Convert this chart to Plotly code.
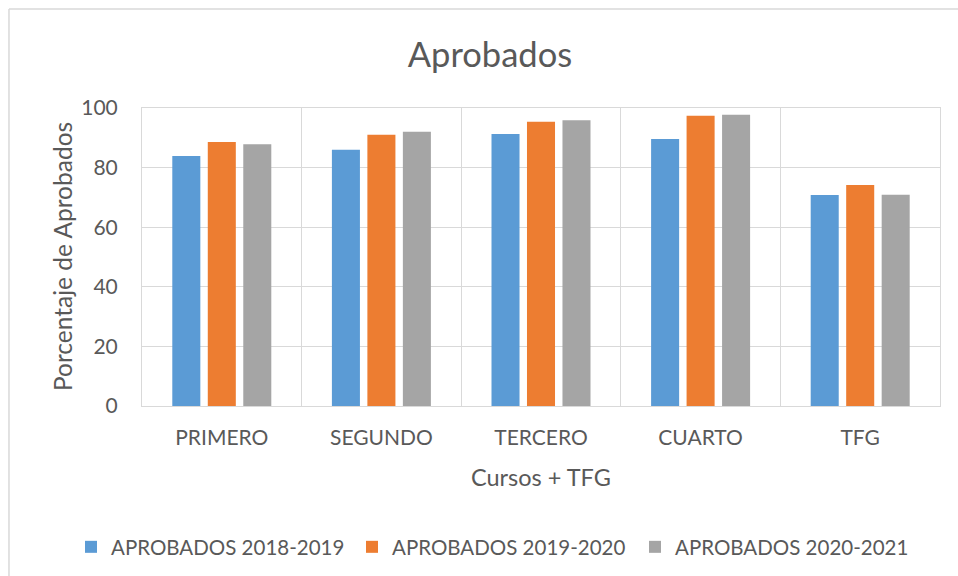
import plotly.graph_objects as go

categories = ["PRIMERO", "SEGUNDO", "TERCERO", "CUARTO", "TFG"]
series_names = ["APROBADOS 2018-2019", "APROBADOS 2019-2020", "APROBADOS 2020-2021"]
vals_2018_2019 = [83.9, 86.0, 91.3, 89.6, 70.8]
vals_2019_2020 = [88.6, 91.0, 95.4, 97.4, 74.2]
vals_2020_2021 = [87.8, 92.0, 95.9, 97.7, 70.9]
colors = ["#5B9BD5", "#ED7D31", "#A5A5A5"]
y_ticks = [0, 20, 40, 60, 80, 100]
x_title = "Cursos + TFG"
y_title = "Porcentaje de Aprobados"
chart_title = "Aprobados"

FONT = "Lato, 'Open Sans', sans-serif"
TXT = "#595959"
GRID = "#D9D9D9"
W, H = 958, 576

legend_ids = ["legend", "legend2", "legend3"]
legend_sym_x = [91, 372, 655]  # symbol centre (px)

fig = go.Figure()
for name, vals, col, lg in zip(series_names, [vals_2018_2019, vals_2019_2020, vals_2020_2021], colors, legend_ids):
    fig.add_trace(go.Bar(x=categories, y=vals, name=name, legend=lg,
                         marker=dict(color=col, line=dict(width=0))))

legend_common = dict(xref="container", yref="container", xanchor="left", yanchor="middle",
                     y=1 - 547 / H, bgcolor="rgba(0,0,0,0)", borderwidth=0,
                     font=dict(size=20.5, color=TXT, family=FONT))

fig.update_layout(
    width=W, height=H,
    margin=dict(l=142, r=18, t=108, b=170, autoexpand=False),
    paper_bgcolor="white", plot_bgcolor="white",
    barmode="group", bargap=0.333, bargroupgap=0.21,
    font=dict(family=FONT, color=TXT, size=21),
    title=dict(text=chart_title, x=490 / W, xanchor="center", xref="container",
               y=1 - 55 / H, yref="container", yanchor="middle",
               font=dict(family=FONT, size=34.5, color=TXT)),
    xaxis=dict(
        type="category", tickson="boundaries", showgrid=True, gridcolor=GRID, gridwidth=1,
        showline=True, linecolor=GRID, linewidth=1, mirror=True,
        ticks="", ticklabelstandoff=13,
        tickfont=dict(size=21, color=TXT, family=FONT),
    ),
    yaxis=dict(
        range=[0, 100], tickvals=y_ticks, showgrid=True, gridcolor=GRID, gridwidth=1,
        showline=True, linecolor=GRID, linewidth=1, mirror=True, zeroline=False,
        ticks="", ticklabelstandoff=19,
        tickfont=dict(size=21, color=TXT, family=FONT),
    ),
    legend=dict(x=(legend_sym_x[0] - 20) / W, **legend_common),
    legend2=dict(x=(legend_sym_x[1] - 20) / W, **legend_common),
    legend3=dict(x=(legend_sym_x[2] - 20) / W, **legend_common),
    showlegend=True,
)

# axis titles as positioned text
fig.add_annotation(text=x_title, xref="paper", yref="paper", x=0.5, y=(406 - 477) / 298,
                   xanchor="center", yanchor="middle", showarrow=False,
                   font=dict(size=23.5, color=TXT, family=FONT))
fig.add_annotation(text=y_title, xref="paper", yref="paper", x=(62 - 142) / 798, y=0.5,
                   xanchor="center", yanchor="middle", showarrow=False, textangle=-90,
                   font=dict(size=24.5, color=TXT, family=FONT))

# outer chart border (top and left edges visible in reference)
fig.add_shape(type="line", xref="paper", yref="paper", x0=-0.1667, x1=1.03, y0=1.332, y1=1.332,
              line=dict(color=GRID, width=1.5))
fig.add_shape(type="line", xref="paper", yref="paper", x0=-0.1667, x1=-0.1667, y0=1.332, y1=-0.6,
              line=dict(color=GRID, width=1.5))

fig.write_html("out.html", config={"displayModeBar": False},
               post_script="document.body.style.margin='0';document.body.style.padding='0';")
